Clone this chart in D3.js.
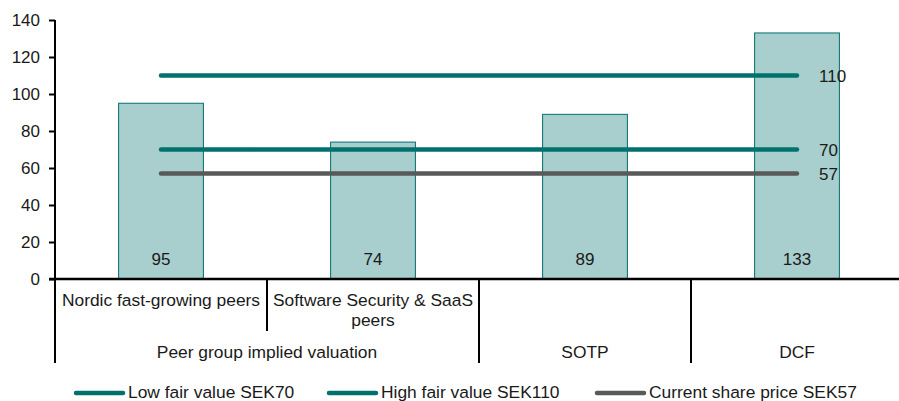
<!DOCTYPE html>
<html><head><meta charset="utf-8">
<script src="https://cdn.jsdelivr.net/npm/d3@7"></script>
<style>body{margin:0;background:#fff}svg{display:block;font-family:"Liberation Sans",Arial,sans-serif}</style>
</head><body>
<svg id="c" width="899" height="401"></svg>
<script>
const categories = ["Nordic fast-growing peers", "Software Security & SaaS peers", "SOTP", "DCF"];
const leafLabels = ["Nordic fast-growing peers", "Software Security & SaaS peers", "", ""];
const groups = ["Peer group implied valuation", "Peer group implied valuation", "SOTP", "DCF"];
const values = [95, 74, 89, 133];
const lineNames = ["Low fair value SEK70", "High fair value SEK110", "Current share price SEK57"];
const lineValues = [70, 110, 57];
const lineColors = ["#00716d", "#00716d", "#595959"];
const yTicks = [0, 20, 40, 60, 80, 100, 120, 140];

const svg = d3.select("#c");
const fs = 17;
const fsL = 17.4;
const y = d3.scaleLinear().domain([0, 140]).range([279, 20]);
const x = d3.scaleBand().domain(categories).range([55, 903]).padding(0);
const bw = x.bandwidth();

// bars
svg.selectAll("rect.bar").data(values).join("rect")
  .attr("x", (d, i) => x(categories[i]) + bw * 0.3)
  .attr("width", bw * 0.4)
  .attr("y", d => y(d))
  .attr("height", d => y(0) - y(d))
  .attr("fill", "#a8cecd").attr("stroke", "#00716d").attr("stroke-width", 1);

svg.selectAll("text.val").data(values).join("text")
  .attr("x", (d, i) => x(categories[i]) + bw / 2)
  .attr("y", y(0) - 14)
  .attr("text-anchor", "middle").attr("font-size", fs).attr("fill", "#1a1a1a")
  .text(d => d);

// lines
const x0 = x(categories[0]) + bw / 2, x1 = x(categories[3]) + bw / 2;
lineValues.forEach((v, i) => {
  svg.append("line").attr("x1", x0).attr("x2", x1).attr("y1", y(v)).attr("y2", y(v))
    .attr("stroke", lineColors[i]).attr("stroke-width", 4.5).attr("stroke-linecap", "round");
  svg.append("text").attr("x", x1 + 22).attr("y", y(v) + 6)
    .attr("font-size", fs).attr("fill", "#1a1a1a").text(v);
});

// y axis
const yAxis = d3.axisLeft(y).tickValues(yTicks).tickSize(6).tickPadding(9);
const ga = svg.append("g").attr("transform", "translate(55,0)").call(yAxis);
ga.select(".domain").attr("stroke", "#000").attr("stroke-width", 2).attr("d", "M0,20V280");
ga.selectAll(".tick line").attr("stroke", "#000").attr("stroke-width", 2);
ga.selectAll(".tick text").attr("font-size", fs).attr("fill", "#1a1a1a").attr("font-family", "Liberation Sans, Arial, sans-serif");

// x axis
svg.append("line").attr("x1", 49).attr("x2", 899).attr("y1", y(0)).attr("y2", y(0))
  .attr("stroke", "#000").attr("stroke-width", 2.5);

// leaf labels with wrapping
leafLabels.forEach((lab, i) => {
  if (!lab) return;
  const words = lab.split(" ");
  const t = svg.append("text").attr("font-size", fsL).attr("fill", "#1a1a1a").attr("text-anchor", "middle");
  let lines = [], cur = [];
  const tmp = svg.append("text").attr("font-size", fsL);
  words.forEach(w => {
    const test = cur.concat(w).join(" ");
    tmp.text(test);
    if (tmp.node().getComputedTextLength() > bw - 6 && cur.length) { lines.push(cur.join(" ")); cur = [w]; }
    else cur.push(w);
  });
  lines.push(cur.join(" "));
  tmp.remove();
  lines.forEach((l, j) => {
    t.append("tspan").attr("x", x(categories[i]) + bw / 2).attr("y", 306 + j * 20).text(l);
  });
});

// separators between leaves inside a group
for (let i = 1; i < categories.length; i++) {
  const xs = x(categories[i]);
  const sameGroup = groups[i] === groups[i - 1];
  svg.append("line").attr("x1", xs).attr("x2", xs).attr("y1", y(0)).attr("y2", sameGroup ? 331 : 363)
    .attr("stroke", "#000").attr("stroke-width", 2);
}
svg.append("line").attr("x1", 55).attr("x2", 55).attr("y1", y(0)).attr("y2", 363)
  .attr("stroke", "#000").attr("stroke-width", 2);

// group labels
const groupNames = Array.from(new Set(groups));
groupNames.forEach(g => {
  const idx = groups.map((d, i) => d === g ? i : -1).filter(i => i >= 0);
  const gx0 = x(categories[idx[0]]), gx1 = x(categories[idx[idx.length - 1]]) + bw;
  svg.append("text").attr("x", (gx0 + gx1) / 2).attr("y", 358)
    .attr("text-anchor", "middle").attr("font-size", fsL).attr("fill", "#1a1a1a").text(g);
});

// legend
const legX = [74, 327, 595];
lineNames.forEach((n, i) => {
  svg.append("line").attr("x1", legX[i] + 2).attr("x2", legX[i] + 49).attr("y1", 393).attr("y2", 393)
    .attr("stroke", lineColors[i]).attr("stroke-width", 4.5).attr("stroke-linecap", "round");
  svg.append("text").attr("x", legX[i] + 54).attr("y", 398).attr("font-size", fsL).attr("fill", "#1a1a1a").text(n);
});
</script>
</body></html>
